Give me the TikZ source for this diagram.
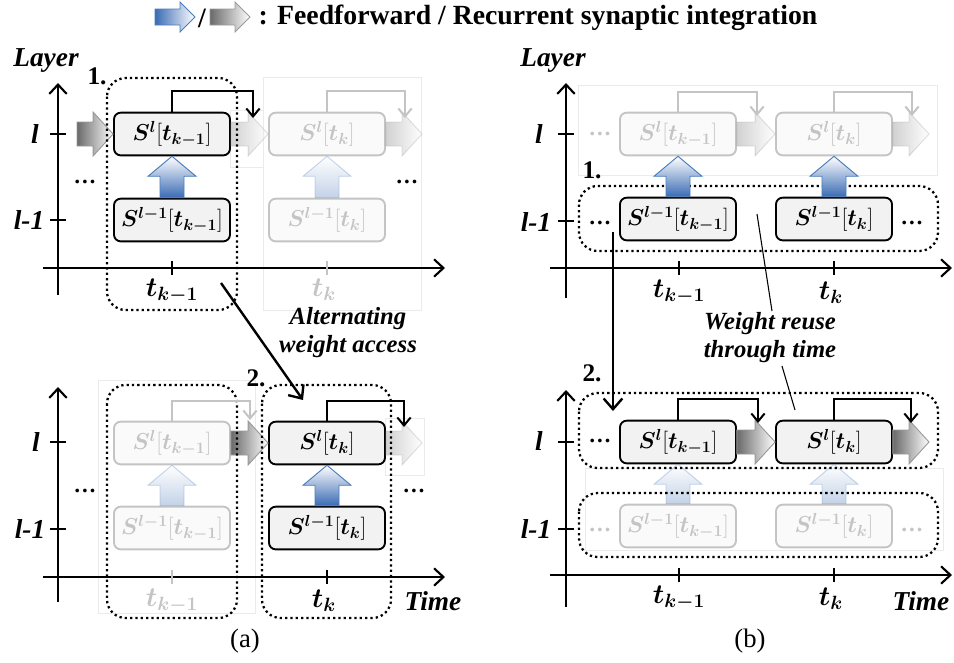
\documentclass[tikz,border=0pt]{standalone}
\usepackage{amsmath,bm}
\usepackage{fontspec}
\setmainfont{Liberation Serif}
\usetikzlibrary{arrows.meta,calc}
\definecolor{boxfill}{HTML}{F2F2F2}
\definecolor{fadedraw}{HTML}{C4C4C4}
\definecolor{fadefill}{HTML}{FAFAFA}
\definecolor{blueline}{HTML}{4A7EBB}
\definecolor{bluefill}{HTML}{3A6BB4}
\definecolor{grayline}{HTML}{9A9A9A}
\definecolor{grayfill}{HTML}{6A6A6A}
\newcommand\hblock[6][]{\shadedraw[#1] ($(#2)+(0,-#4)$) -- ($(#3)+(-#6,-#4)$) -- ($(#3)+(-#6,-#5)$) -- (#3) -- ($(#3)+(-#6,#5)$) -- ($(#3)+(-#6,#4)$) -- ($(#2)+(0,#4)$) -- cycle;}
\newcommand\harr[3][]{\hblock[grayarr,#1]{#2}{#3}{12}{22}{20}}
\newcommand\varr[3][]{\shadedraw[bluearr,#1] ($(#2)+(-12,0)$) -- ($(#3)+(-12,20)$) -- ($(#3)+(-24,20)$) -- (#3) -- ($(#3)+(24,20)$) -- ($(#3)+(12,20)$) -- ($(#2)+(12,0)$) -- cycle;}
\newcommand\SL[1]{$\bm{S^{l}}[\bm{t_{#1}}]$}
\newcommand\SM[1]{$\bm{S^{l-1}}[\bm{t_{#1}}]$}
\begin{document}
\begin{tikzpicture}[x=0.75pt,y=-0.75pt,
  box/.style={draw=black, line width=1.4pt, fill=boxfill, rounded corners=5pt, minimum width=87pt, minimum height=32pt, inner sep=0pt, font=\fontsize{17.28}{20}\selectfont},
  fadebox/.style={box, draw=fadedraw, fill=fadefill, text=fadedraw},
  rec/.style={line width=1.5pt, -{Straight Barb[length=6pt,width=10pt,line width=1.5pt]}},
  frec/.style={rec, draw=fadedraw},
  axis/.style={line width=1.6pt, -{Straight Barb[length=7pt,width=13pt,line width=1.6pt]}},
  bigarr/.style={line width=1.8pt, -{Straight Barb[length=8pt,width=14pt,line width=1.8pt]}},
  tickm/.style={line width=1.6pt},
  dotbox/.style={draw=black, line width=1.7pt, dash pattern=on 1.7pt off 2.3pt, rounded corners=14pt},
  ghost/.style={draw=black!8, fill=white, line width=0.4pt},
  grayarr/.style={left color=grayfill, right color=white, draw=grayline, line width=0.7pt},
  bluearr/.style={top color=white, bottom color=bluefill, draw=blueline, line width=0.7pt},
  lab/.style={font=\fontsize{20.5}{24}\selectfont\bfseries\itshape},
  note/.style={font=\fontsize{18.5}{22}\selectfont\bfseries\itshape},
  num/.style={font=\fontsize{19}{22}\selectfont\bfseries},
  tlab/.style={font=\fontsize{20.74}{22}\selectfont},
  dots/.style={font=\fontsize{17}{20}\selectfont\bfseries},
  ]
\useasboundingbox (0,0) rectangle (954,662);

% ---------------- title ----------------
\coordinate (tb0) at (155,17); \coordinate (tb1) at (195,17);
\hblock[left color=bluefill,right color=white,draw=blueline,line width=0.7pt]{tb0}{tb1}{8}{15}{15}
\node[num, font=\fontsize{21}{24}\selectfont\bfseries] (slash) at (202,18) {/};
\coordinate (tg0) at (210,17); \coordinate (tg1) at (250,17);
\hblock[grayarr]{tg0}{tg1}{8}{15}{15}
\node[anchor=west, font=\fontsize{20.8}{24}\selectfont\bfseries] (title) at (254,18) {: Feedforward / Recurrent synaptic integration};

% ================= panel (a) top =================
\draw[ghost] (263,77) rectangle (421,310);
\draw[ghost] (230,110) rectangle (263,167);
\draw[axis] (58,295) -- (58,83);
\draw[axis] (43,268) -- (445,268);
\draw[tickm] (50,134) -- (66,134);
\draw[tickm] (50,220) -- (66,220);
\draw[tickm] (172,261) -- (172,275);
\draw[tickm, fadedraw] (327,261) -- (327,275);
\node[lab] (layA) at (46,60) {Layer};
\node[lab] (lA) at (35,134) {l};
\node[lab] (lmA) at (29,220) {l-1};
\node[tlab] (tkmA) at (172,291) {$\bm{t_{k-1}}$};
\node[tlab, text=fadedraw] (tkA) at (324,290) {$\bm{t_{k}}$};

\node[fadebox] (A3) at (327,134) {\SL{k}};
\node[fadebox] (A4) at (327,220) {\SM{k}};
\node[box] (A1) at (172,134) {\SL{k-1}};
\node[box] (A2) at (172,220) {\SM{k-1}};
\coordinate (ina) at (77,134);
\coordinate (outa) at (422,134);
\harr{ina}{A1.west}
\harr[opacity=.3]{A1.east}{A3.west}
\harr[opacity=.3]{A3.east}{outa}
\varr{A2.north}{A1.south}
\varr[opacity=.3]{A4.north}{A3.south}
\draw[dotbox] (107,78) rectangle (237,310);
\coordinate (ra1) at (253,118);
\coordinate (ra3) at (405,118);
\draw[rec] (A1.north) -- ++(0,-21) -| (ra1);
\draw[frec] (A3.north) -- ++(0,-21) -| (ra3);
\node[dots] (da1) at (85,182) {\dots};
\node[dots] (da2) at (407,182) {\dots};
\node[num] (n1a) at (97,76) {1.};

\coordinate (dg0) at (221,283);
\coordinate (dg1) at (303,400);
\draw[bigarr] (dg0) -- (dg1);
\node[note, align=center] (alt) at (348,333) {Alternating\\[-1pt]weight access};

% ================= panel (a) bottom =================
\draw[ghost] (98,380) rectangle (255,613);
\draw[ghost] (385,418) rectangle (424,475);
\draw[axis] (58,602) -- (58,387);
\draw[axis] (43,577) -- (445,577);
\draw[tickm] (50,442) -- (66,442);
\draw[tickm] (50,529) -- (66,529);
\draw[tickm, fadedraw] (172,570) -- (172,584);
\draw[tickm] (327,570) -- (327,584);
\node[lab] (lB) at (36,442) {l};
\node[lab] (lmB) at (30,529) {l-1};
\node[tlab, text=fadedraw] (tkmB) at (172,601) {$\bm{t_{k-1}}$};
\node[tlab] (tkB) at (324,601) {$\bm{t_{k}}$};
\node[lab] (timeA) at (433,601) {Time};
\node[font=\fontsize{20}{22}\selectfont] (capa) at (245,641) {(a)};

\node[fadebox] (B1) at (172,443) {\SL{k-1}};
\node[fadebox] (B2) at (172,528) {\SM{k-1}};
\node[box] (B3) at (327,443) {\SL{k}};
\node[box] (B4) at (327,528) {\SM{k}};
\coordinate (outb) at (422,443);
\harr{B1.east}{B3.west}
\harr[opacity=.3]{B3.east}{outb}
\varr[opacity=.3]{B2.north}{B1.south}
\varr{B4.north}{B3.south}
\draw[dotbox] (107,385) rectangle (237,618);
\draw[dotbox] (262,385) rectangle (391,618);
\coordinate (rb1) at (250,420);
\coordinate (rb3) at (404,427);
\draw[frec] (B1.north) -- ++(0,-20) -| (rb1);
\draw[rec] (B3.north) -- ++(0,-20) -| (rb3);
\node[dots] (db1) at (85,491) {\dots};
\node[dots] (db2) at (414,491) {\dots};
\node[num] (n2a) at (256,378) {2.};

% ================= panel (b) top =================
\draw[ghost] (578,85) rectangle (937,175);
\draw[axis] (566,298) -- (566,83);
\draw[axis] (550,268) -- (952,268);
\draw[tickm] (558,134) -- (574,134);
\draw[tickm] (558,221) -- (574,221);
\draw[tickm] (679,261) -- (679,275);
\draw[tickm] (834,261) -- (834,275);
\node[lab] (layB) at (553,60) {Layer};
\node[lab] (lC) at (539,134) {l};
\node[lab] (lmC) at (536,222) {l-1};
\node[tlab] (tkmC) at (679,292) {$\bm{t_{k-1}}$};
\node[tlab] (tkC) at (831,293) {$\bm{t_{k}}$};

\node[fadebox] (C1) at (678,134) {\SL{k-1}};
\node[fadebox] (C2) at (834,134) {\SL{k}};
\node[box] (C3) at (678,219) {\SM{k-1}};
\node[box] (C4) at (834,219) {\SM{k}};
\coordinate (outc) at (929,134);
\harr[opacity=.3]{C1.east}{C2.west}
\harr[opacity=.3]{C2.east}{outc}
\coordinate (rc1) at (757,116);
\coordinate (rc2) at (912,116);
\draw[frec] (C1.north) -- ++(0,-20) -| (rc1);
\draw[frec] (C2.north) -- ++(0,-20) -| (rc2);
\node[dots, text=fadedraw] (dc0) at (600,134) {\dots};
\draw[dotbox] (579,186) rectangle (938,251);
\varr{C3.north}{C1.south}
\varr{C4.north}{C2.south}
\node[dots] (dc1) at (600,223) {\dots};
\node[dots] (dc2) at (912,223) {\dots};
\node[num] (n1b) at (592,170) {1.};

\coordinate (vd0) at (613,232);
\coordinate (vd1) at (613,411);
\draw[bigarr] (vd0) -- (vd1);
\node[note, align=center] (wr) at (770,338) {Weight reuse\\[-1pt]through time};
\coordinate (wp1) at (757,214);
\coordinate (wq1) at (772,311);
\coordinate (wp2) at (782,366);
\coordinate (wq2) at (795,410);
\draw[line width=0.8pt] (wq1) -- (wp1);
\draw[line width=0.8pt] (wp2) -- (wq2);

% ================= panel (b) bottom =================
\draw[ghost] (585,468) rectangle (943,550);
\draw[axis] (566,607) -- (566,390);
\draw[axis] (550,575) -- (952,575);
\draw[tickm] (558,442) -- (574,442);
\draw[tickm] (558,529) -- (574,529);
\draw[tickm] (679,568) -- (679,582);
\draw[tickm] (834,568) -- (834,582);
\node[lab] (lD) at (539,441) {l};
\node[lab] (lmD) at (536,529) {l-1};
\node[tlab] (tkmD) at (679,598) {$\bm{t_{k-1}}$};
\node[tlab] (tkD) at (831,599) {$\bm{t_{k}}$};
\node[lab] (timeB) at (921,601) {Time};
\node[font=\fontsize{20}{22}\selectfont] (capb) at (750,641) {(b)};

\node[fadebox] (D3) at (678,526) {\SM{k-1}};
\node[fadebox] (D4) at (834,526) {\SM{k}};
\node[box] (D1) at (678,442) {\SL{k-1}};
\node[box] (D2) at (834,442) {\SL{k}};
\coordinate (outd) at (929,442);
\varr[opacity=.3]{D3.north}{D1.south}
\varr[opacity=.3]{D4.north}{D2.south}
\harr{D1.east}{D2.west}
\harr{D2.east}{outd}
\draw[dotbox] (579,393) rectangle (938,468);
\draw[dotbox] (579,493) rectangle (938,557);
\coordinate (rd1) at (758,423);
\coordinate (rd2) at (911,423);
\draw[rec] (D1.north) -- ++(0,-21) -| (rd1);
\draw[rec] (D2.north) -- ++(0,-21) -| (rd2);
\node[dots] (dd1) at (600,441) {\dots};
\node[dots, text=fadedraw] (dd2) at (600,530) {\dots};
\node[dots, text=fadedraw] (dd3) at (912,530) {\dots};
\node[num] (n2b) at (592,373) {2.};
\end{tikzpicture}
\end{document}
